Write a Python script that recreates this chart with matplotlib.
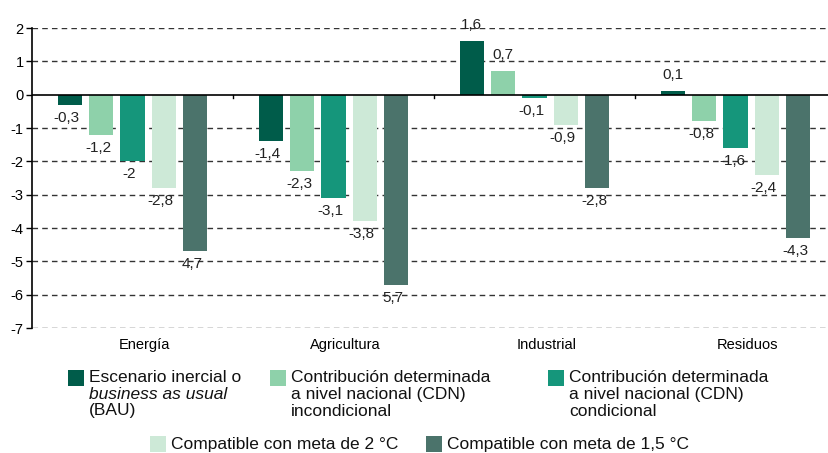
import matplotlib
matplotlib.use("Agg")
import matplotlib.pyplot as plt
import matplotlib.transforms as mtransforms
from matplotlib.patches import Rectangle
import numpy as np

plt.rcParams['font.family'] = ['Liberation Sans', 'DejaVu Sans']

categories = ["Energía", "Agricultura", "Industrial", "Residuos"]
bau = [-0.3, -1.4, 1.6, 0.1]
cdn_incond = [-1.2, -2.3, 0.7, -0.8]
cdn_cond = [-2.0, -3.1, -0.1, -1.6]
meta_2 = [-2.8, -3.8, -0.9, -2.4]
meta_15 = [-4.7, -5.7, -2.8, -4.3]
series = [bau, cdn_incond, cdn_cond, meta_2, meta_15]
value_labels = [
    ["-0,3", "-1,4", "1,6", "0,1"],
    ["-1,2", "-2,3", "0,7", "-0,8"],
    ["-2", "-3,1", "-0,1", "-1,6"],
    ["-2,8", "-3,8", "-0,9", "-2,4"],
    ["4,7", "5,7", "-2,8", "-4,3"],
]
colors = ["#005c4a", "#8ed1aa", "#15967b", "#cde9d7", "#4b736b"]
yticks = [2, 1, 0, -1, -2, -3, -4, -5, -6, -7]

W, H = 829, 453
fig = plt.figure(figsize=(W / 100, H / 100), dpi=100)
ax_l, ax_r, ax_t, ax_b = 32, 836, 28, 328
ax = fig.add_axes([ax_l / W, 1 - ax_b / H, (ax_r - ax_l) / W, (ax_b - ax_t) / H])

n = len(series)
x = np.arange(len(categories))
slot = 0.156
bw = 0.12
for i, (vals, col, labs) in enumerate(zip(series, colors, value_labels)):
    pos = x + (i - (n - 1) / 2) * slot
    ax.bar(pos, vals, width=bw, color=col, zorder=3)
    for px, v, lab in zip(pos, vals, labs):
        if v >= 0:
            off = mtransforms.offset_copy(ax.transData, fig=fig, x=0, y=9, units='dots')
            ax.text(px, v, lab, transform=off, ha='center', va='bottom', fontsize=11, color='#222222')
        else:
            off = mtransforms.offset_copy(ax.transData, fig=fig, x=-3, y=-6, units='dots')
            ax.text(px, v, lab, transform=off, ha='center', va='top', fontsize=11, color='#222222')

ax.set_xlim(-0.5, len(categories) - 0.5)
ax.set_ylim(-7, 2)
ax.set_yticks(yticks)
ax.set_yticklabels([str(t) for t in yticks], fontsize=10.5)
for t in yticks:
    if t != 0:
        ax.axhline(t, color='#333333', lw=1.0, ls=(0, (4, 3)), zorder=1)
ax.axhline(0, color='black', lw=1.2, zorder=4)

for s in ['top', 'right', 'bottom']:
    ax.spines[s].set_visible(False)
ax.spines['left'].set_linewidth(1.2)
ax.tick_params(axis='y', length=4, width=1, pad=2, colors='black')

ax.set_xticks(x)
ax.set_xticklabels(categories, fontsize=10.5)
ax.tick_params(axis='x', length=0, pad=7)
for lab in ax.get_xticklabels():
    lab.set_transform(lab.get_transform() + mtransforms.ScaledTranslation(0.12, 0, fig.dpi_scale_trans))

# boundary ticks on the zero line
for b in x[:-1] + 0.5:
    ax.plot([b, b], [0, -0.09], color='black', lw=1, zorder=4, clip_on=False)

# legend (manual)
def px2fig(px, py):
    return px / W, 1 - py / H

sq = 16
legend_fs = 12.5
items = [
    (68, 370, colors[0], [("Escenario inercial o", 'normal'), ("business as usual", 'italic'), ("(BAU)", 'normal')]),
    (270, 370, colors[1], [("Contribución determinada", 'normal'), ("a nivel nacional (CDN)", 'normal'), ("incondicional", 'normal')]),
    (548, 370, colors[2], [("Contribución determinada", 'normal'), ("a nivel nacional (CDN)", 'normal'), ("condicional", 'normal')]),
    (150, 436, colors[3], [("Compatible con meta de 2 °C", 'normal')]),
    (426, 436, colors[4], [("Compatible con meta de 1,5 °C", 'normal')]),
]
for sx, sy, col, lines in items:
    fx, fy = px2fig(sx, sy + sq)
    fig.patches.append(Rectangle((fx, fy), sq / W, sq / H, transform=fig.transFigure,
                                 facecolor=col, edgecolor='none'))
    for k, (txt, style) in enumerate(lines):
        tx, ty = px2fig(sx + sq + 5, sy + 8 + k * 16.5)
        fig.text(tx, ty, txt, fontsize=legend_fs, style=style, va='center', ha='left', color='#111111')

fig.savefig("out.png", dpi=100)
